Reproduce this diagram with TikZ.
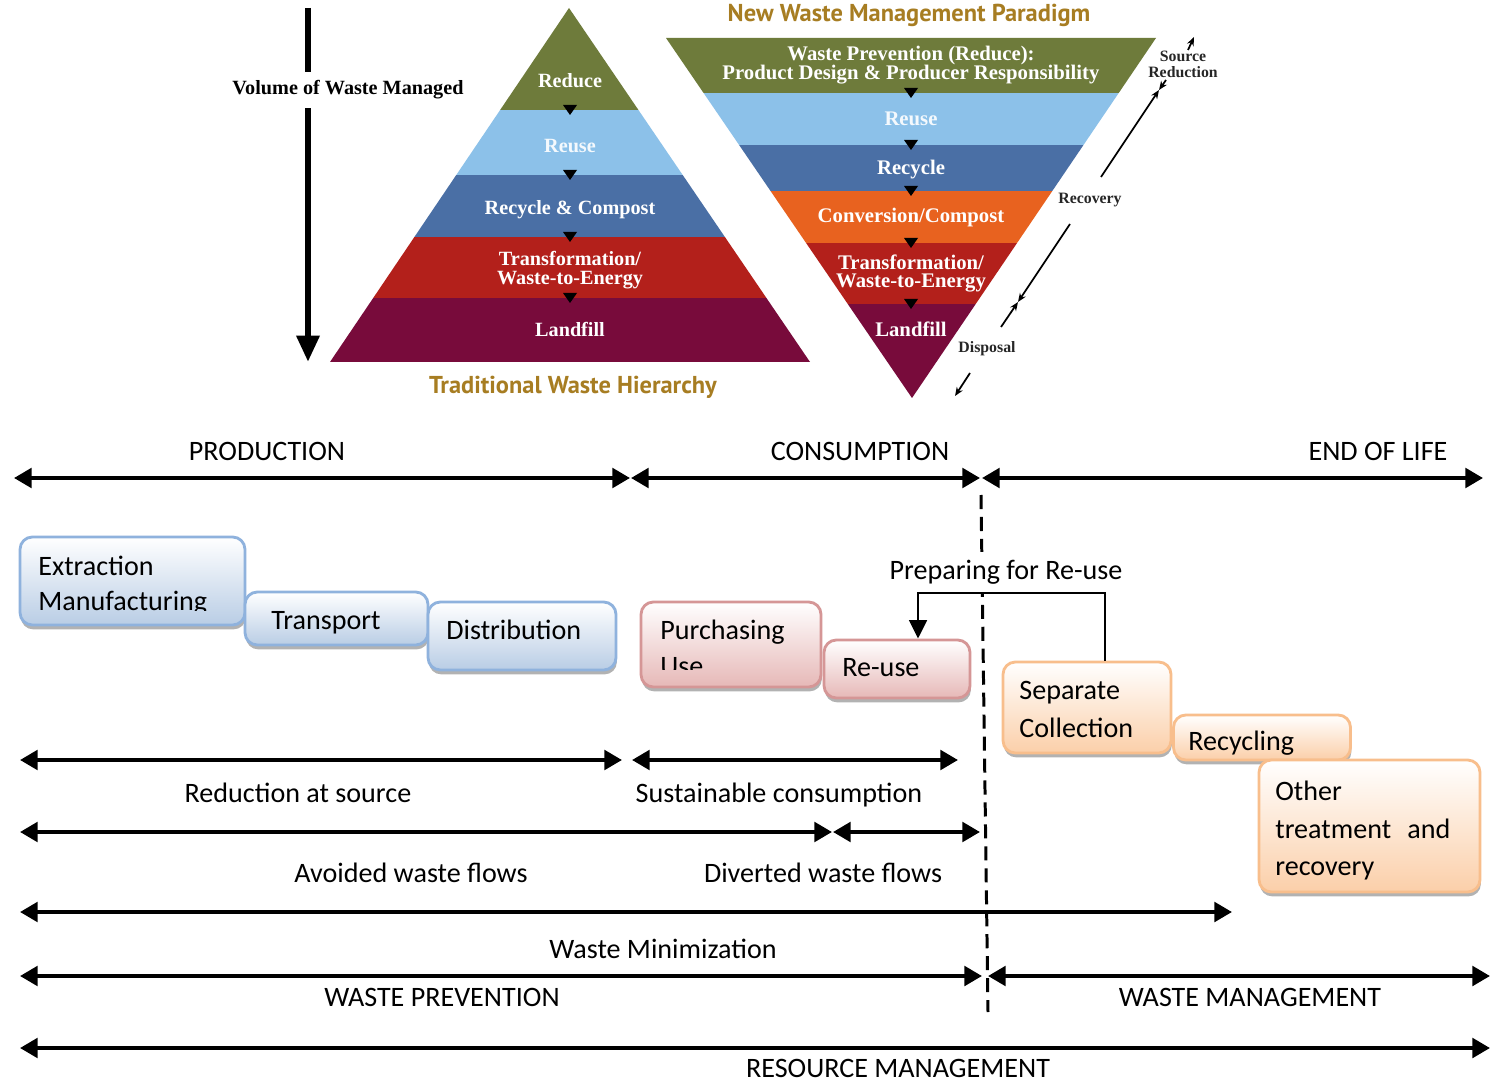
\documentclass[tikz,border=0pt]{standalone}
\usepackage{fontspec}
\setmainfont{Carlito}
\newfontfamily\tnrfont{Liberation Serif}
\newfontfamily\ptfont{PT Sans}
\usetikzlibrary{arrows.meta,shadows}
\definecolor{cOlive}{HTML}{6E7B3B}
\definecolor{cLBlue}{HTML}{8CC1E9}
\definecolor{cSBlue}{HTML}{4A6FA5}
\definecolor{cOrange}{HTML}{E8621F}
\definecolor{cRed}{HTML}{B3201B}
\definecolor{cMaroon}{HTML}{780B3B}
\definecolor{cGold}{HTML}{A77D22}
\definecolor{bBorder}{HTML}{8FB2DD}
\definecolor{bFill}{HTML}{B9CDE5}
\definecolor{pBorder}{HTML}{D59696}
\definecolor{pFill}{HTML}{E6B8B7}
\definecolor{oBorder}{HTML}{F8BE8C}
\definecolor{oFill}{HTML}{FBCFA9}
\begin{document}
\begin{tikzpicture}[x=0.02cm, y=-0.02cm,
  pyr/.style={font=\tnrfont\bfseries\fontsize{11.5}{13}\selectfont, text=white, inner sep=0, anchor=base},
  pyrb/.style={pyr, font=\tnrfont\bfseries\fontsize{11.8}{13}\selectfont},
  side/.style={font=\tnrfont\bfseries\fontsize{9}{10}\selectfont, text=black!85, inner sep=0, anchor=base},
  title/.style={font=\ptfont\bfseries\fontsize{13.9}{15}\selectfont, text=cGold, inner sep=0, anchor=base},
  lbl/.style={font=\fontsize{16}{19}\selectfont, inner sep=0, anchor=base},
  boxtxt/.style={font=\fontsize{16}{19}\selectfont, inner sep=0, anchor=base west},
  box/.style={draw, line width=1.6pt, rounded corners=7pt, inner sep=0,
    drop shadow={shadow xshift=0.5pt, shadow yshift=-2.5pt, fill=black!50, opacity=0.6}},
  bluebox/.style={box, draw=bBorder, top color=white, bottom color=bFill},
  pinkbox/.style={box, draw=pBorder, top color=white, bottom color=pFill},
  orbox/.style={box, draw=oBorder, top color=white, bottom color=oFill},
  span/.style={line width=2.3pt, {Triangle[length=10pt,width=11pt]}-{Triangle[length=10pt,width=11pt]}},
  note/.style={line width=1pt, -{Stealth[length=5pt,width=4pt]}}
]
\useasboundingbox[fill=white] (0,0) rectangle (1494,1084);

% ---------- traditional pyramid ----------
\begin{scope}
  \clip (569,8) -- (810,362) -- (330,362) -- cycle;
  \fill[cOlive]  (300,0)   rectangle (840,110);
  \fill[cLBlue]  (300,110) rectangle (840,175);
  \fill[cSBlue]  (300,175) rectangle (840,237);
  \fill[cRed]    (300,237) rectangle (840,298);
  \fill[cMaroon] (300,298) rectangle (840,370);
\end{scope}
\foreach \yy in {110,175,237,298} \fill (563,\yy-5) -- (577,\yy-5) -- (570,\yy+5) -- cycle;
\node[pyr] (r1) at (570,88) {Reduce};
\node[pyr, text=white!90!cLBlue] (r2) at (570,153) {Reuse};
\node[pyr] (r3) at (570,215) {Recycle \& Compost};
\node[pyr] (r4) at (570,266) {Transformation/};
\node[pyr] (r5) at (570,285) {Waste-to-Energy};
\node[pyr] (r6) at (570,337) {Landfill};
\node[title] (ttrad) at (573,394) {Traditional Waste Hierarchy};

% volume arrow
\coordinate (vtop) at (308,8);
\coordinate (vbot) at (308,362);
\draw[line width=3.6pt, -{Triangle[length=15pt,width=12.5pt]}] (vtop) -- (vbot);
\node[pyr, text=black, fill=white, inner xsep=1pt, inner ysep=5pt] (vol) at (348,95) {Volume of Waste Managed};

% ---------- new paradigm (inverted) ----------
\begin{scope}
  \clip (666,38) -- (1156,38) -- (912,398) -- cycle;
  \fill[cOlive]  (640,30)  rectangle (1180,93);
  \fill[cLBlue]  (640,93)  rectangle (1180,145);
  \fill[cSBlue]  (640,145) rectangle (1180,191);
  \fill[cOrange] (640,191) rectangle (1180,243);
  \fill[cRed]    (640,243) rectangle (1180,304);
  \fill[cMaroon] (640,304) rectangle (1180,400);
\end{scope}
\foreach \yy in {93,145,191,243,304} \fill (904,\yy-5) -- (918,\yy-5) -- (911,\yy+5) -- cycle;
\node[pyrb] (n1) at (911,61) {Waste Prevention (Reduce):};
\node[pyrb] (n2) at (911,80) {Product Design \& Producer Responsibility};
\node[pyrb, text=white!90!cLBlue] (n3) at (911,126) {Reuse};
\node[pyrb] (n4) at (911,175) {Recycle};
\node[pyrb] (n5) at (911,223) {Conversion/Compost};
\node[pyrb] (n6) at (911,270) {Transformation/};
\node[pyrb] (n7) at (911,288) {Waste-to-Energy};
\node[pyrb] (n8) at (911,337) {Landfill};
\node[title] (tnew) at (909,22) {New Waste Management Paradigm};

% side notes
\node[side] (s1) at (1183,62) {Source};
\node[side] (s2) at (1183,78) {Reduction};
\node[side] (s3) at (1090,204) {Recovery};
\node[side] (s4) at (987,353) {Disposal};
\coordinate (a1) at (1188,50);  \coordinate (a2) at (1194,37);
\coordinate (b1) at (1101,177); \coordinate (b2) at (1159,90); \coordinate (b3) at (1166,80);
\coordinate (c1) at (1070,224); \coordinate (c2) at (1018,302); \coordinate (c3) at (1001,327);
\coordinate (d1) at (970,373);  \coordinate (d2) at (955,396);
\draw[note] (a1) -- (a2);
\draw[note] (b1) -- (b2);
\draw[note] (b3) -- (b2);
\draw[note] (c1) -- (c2);
\draw[note] (c3) -- (c2);
\draw[note] (d1) -- (d2);

% ---------- lifecycle ----------
\coordinate (pl) at (14,478);  \coordinate (pr) at (630,478);
\coordinate (cl) at (631,478); \coordinate (cr) at (980,478);
\coordinate (el) at (982,478); \coordinate (er) at (1483,478);
\draw[span] (pl) -- (pr);
\draw[span] (cl) -- (cr);
\draw[span] (el) -- (er);
\node[lbl] (lprod) at (267,460) {PRODUCTION};
\node[lbl] (lcons) at (860,460) {CONSUMPTION};
\node[lbl] (leol) at (1378,460) {END OF LIFE};

% dashed divider
\coordinate (dt) at (981,495); \coordinate (db) at (988,1012);
\draw[line width=1.7pt, dash pattern=on 8pt off 4.5pt] (dt) -- (db);

% boxes
\node[bluebox, minimum width=4.5cm,  minimum height=1.76cm] (ext) at (132.5,581) {};
\node[bluebox, minimum width=3.66cm, minimum height=1.06cm] (tra) at (336.5,618.5) {};
\node[bluebox, minimum width=3.76cm, minimum height=1.36cm] (dis) at (522,636) {};
\node[pinkbox, minimum width=3.6cm,  minimum height=1.7cm]  (pur) at (731,644.5) {};
\node[pinkbox, minimum width=2.92cm, minimum height=1.16cm] (reu) at (897,669) {};
\node[orbox,   minimum width=3.36cm, minimum height=1.82cm] (sep) at (1087,707.5) {};
\node[orbox,   minimum width=3.54cm, minimum height=0.9cm]  (rec) at (1262,737.5) {};
\node[orbox,   minimum width=4.42cm, minimum height=2.64cm] (oth) at (1369.5,826) {};

\begin{scope}
  \clip (20,537) rectangle (245,610.5);
  \node[boxtxt] (t1) at (38,575) {Extraction};
  \node[boxtxt] (t2) at (38,610) {Manufacturing};
\end{scope}
\node[boxtxt] (t3) at (271,629) {Transport};
\node[boxtxt] (t4) at (446,639) {Distribution};
\begin{scope}
  \clip (641,602) rectangle (821,669);
  \node[boxtxt] (t5) at (660,639) {Purchasing};
  \node[boxtxt] (t6) at (660,675) {Use};
\end{scope}
\node[boxtxt] (t7) at (842,676) {Re-use};
\node[boxtxt] (t8) at (1019,699) {Separate};
\node[boxtxt] (t9) at (1019,737) {Collection};
\node[boxtxt] (t10) at (1188,750) {Recycling};
\node[boxtxt] (t11) at (1275,800) {Other};
\node[boxtxt] (t12) at (1275,838) {\makebox[3.5cm][s]{treatment and}};
\node[boxtxt] (t13) at (1275,875) {recovery};

% preparing for re-use
\node[lbl, fill=white, inner xsep=0pt, inner ysep=4.5pt] (prep) at (1006,579) {Preparing for Re-use};
\coordinate (p1) at (1105,593); \coordinate (p2) at (918,593);
\draw[line width=1.6pt, -{Triangle[length=10.5pt,width=10pt]}] (sep.north -| p1) -- (p1) -- (p2) -- (reu.north -| p2);

% spans
\coordinate (ra) at (20,760);  \coordinate (rb) at (622,760);
\coordinate (sa) at (632,760); \coordinate (sb) at (958,760);
\coordinate (aa) at (20,832);  \coordinate (ab) at (832,832);
\coordinate (da) at (833,832); \coordinate (dbb) at (980,832);
\coordinate (ma) at (20,912);  \coordinate (mb) at (1232,912);
\coordinate (wa) at (20,976);  \coordinate (wb) at (982,976);
\coordinate (ga) at (988,976); \coordinate (gb) at (1490,976);
\coordinate (xa) at (20,1048); \coordinate (xb) at (1490,1048);
\draw[span] (ra) -- (rb);
\draw[span] (sa) -- (sb);
\draw[span] (aa) -- (ab);
\draw[span] (da) -- (dbb);
\draw[span] (ma) -- (mb);
\draw[span] (wa) -- (wb);
\draw[span] (ga) -- (gb);
\draw[span] (xa) -- (xb);
\node[lbl] (l1) at (298,802) {Reduction at source};
\node[lbl] (l2) at (779,802) {Sustainable consumption};
\node[lbl] (l3) at (411,882) {Avoided waste flows};
\node[lbl] (l4) at (823,882) {Diverted waste flows};
\node[lbl] (l5) at (663,958) {Waste Minimization};
\node[lbl] (l6) at (442,1006) {WASTE PREVENTION};
\node[lbl] (l7) at (1250,1006) {WASTE MANAGEMENT};
\node[lbl] (l8) at (898,1077) {RESOURCE MANAGEMENT};
\end{tikzpicture}
\end{document}
